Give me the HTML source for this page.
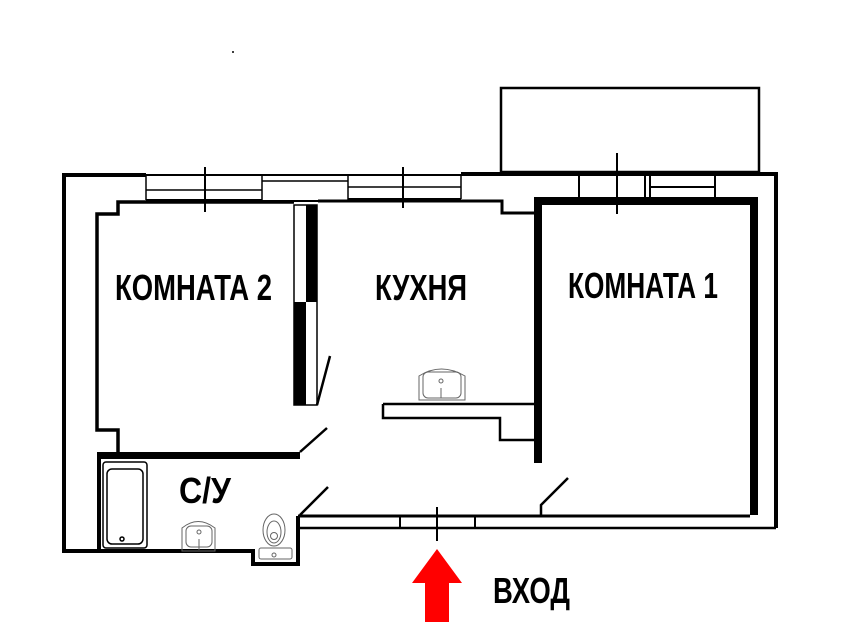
<!DOCTYPE html>
<html><head><meta charset="utf-8"><style>html,body{margin:0;padding:0;background:#fff}svg{display:block}</style></head>
<body>
<svg width="861" height="642" viewBox="0 0 861 642" xmlns="http://www.w3.org/2000/svg">
<rect width="861" height="642" fill="#fff"/>
<g fill="none" stroke="#000">
<!-- outer left wall and top -->
<path d="M64 553 V175 H146" stroke-width="4"/>
<path d="M461 174 H776 V528" stroke-width="4"/>
<!-- windows -->
<path d="M146 175 H461" stroke-width="2"/>
<path d="M146 190 H262 M262 181 H348 M348 187 H461" stroke-width="1.5"/>
<path d="M146 200 H262 M262 201 H348 M348 199 H461" stroke-width="2"/>
<path d="M146 175 V200 M262 175 V202 M348 175 V202 M461 174 V199" stroke-width="1.5"/>
<path d="M205 167 V212 M403 167 V208" stroke-width="2"/>
<!-- balcony -->
<rect x="501" y="88" width="258" height="84" stroke-width="2.5"/>
<!-- K1 window -->
<path d="M579 174 V197 M645 174 V197 M650 174 V197 M715 174 V197 M650 187 H715" stroke-width="2"/>
<path d="M617 153 V214" stroke-width="2"/>
<!-- K2 inner -->
<path d="M294 202 H118 V214 H97 V430 H118 V453" stroke-width="3.5"/>
<!-- kitchen top -->
<path d="M318 201 H502 V213 H535" stroke-width="3"/>
<!-- counter -->
<path d="M383 404 H537 M383 404 V418 H500 V440 H535" stroke-width="2.5"/>
<!-- bathroom -->
<path d="M64 551 H97" stroke-width="4"/>
<path d="M99 455 V551 H253 V564 H298 V516" stroke-width="4"/>
<!-- bottom lines -->
<path d="M298 516 H750" stroke-width="3"/>
<path d="M298 528 H776" stroke-width="2.5"/>
<path d="M400 516 V528 M475 516 V528" stroke-width="2"/>
<path d="M437 507 V541" stroke-width="2"/>
<!-- door swings -->
<path d="M300 452 L327 428 M317 405 L330 356 M300 515 L328 487 M541 515 V505 L568 478" stroke-width="2.5"/>
</g>
<g fill="#000">
<rect x="97" y="452" width="203" height="7"/>
<rect x="306" y="205" width="11" height="97"/>
<rect x="294" y="302" width="12" height="103"/>
<rect x="534" y="197" width="8" height="266"/>
<rect x="534" y="197" width="224" height="8"/>
<rect x="750" y="197" width="8" height="318"/>
<circle cx="233" cy="52" r="1"/>
</g>
<g fill="none" stroke="#000" stroke-width="1.5">
<rect x="294" y="205" width="23" height="200"/>
<!-- bathtub -->
<rect x="103" y="462" width="44" height="86" rx="3"/>
<rect x="107" y="469" width="36" height="75" rx="5"/>
<circle cx="122" cy="539" r="2"/>
</g>
<g fill="none" stroke="#666" stroke-width="1">
<path d="M419 400 V376 Q441 362 465 376 V400 Z"/>
<rect x="423" y="372" width="38" height="26" rx="5"/>
<circle cx="441" cy="381" r="2"/><path d="M441 388 V398"/>
<path d="M182 551 V528 Q198 515 215 528 V551 Z"/>
<rect x="186" y="526" width="26" height="21" rx="5"/>
<circle cx="199" cy="532" r="2"/><path d="M199 539 V550"/>
<rect x="259" y="548" width="33" height="11" rx="2"/>
<circle cx="274" cy="555" r="2"/>
<ellipse cx="274" cy="530" rx="11" ry="16"/>
<ellipse cx="274" cy="532" rx="7" ry="11"/>
<circle cx="274" cy="536" r="3.5"/>
</g>
<!-- arrow -->
<polygon points="437,549 462,583 449,583 449,622 425,622 425,583 412,583" fill="#ff0000"/>
<g font-family="'Liberation Sans', 'DejaVu Sans', sans-serif" font-weight="bold" fill="#000" font-size="36">
<text x="115" y="300" textLength="157" lengthAdjust="spacingAndGlyphs">КОМНАТА 2</text>
<text x="375" y="300" textLength="92" lengthAdjust="spacingAndGlyphs">КУХНЯ</text>
<text x="568" y="298" textLength="150" lengthAdjust="spacingAndGlyphs">КОМНАТА 1</text>
<text x="179" y="503" textLength="52" lengthAdjust="spacingAndGlyphs">С/У</text>
<text x="493" y="603" textLength="77" lengthAdjust="spacingAndGlyphs">ВХОД</text>
</g>
</svg>
</body></html>
